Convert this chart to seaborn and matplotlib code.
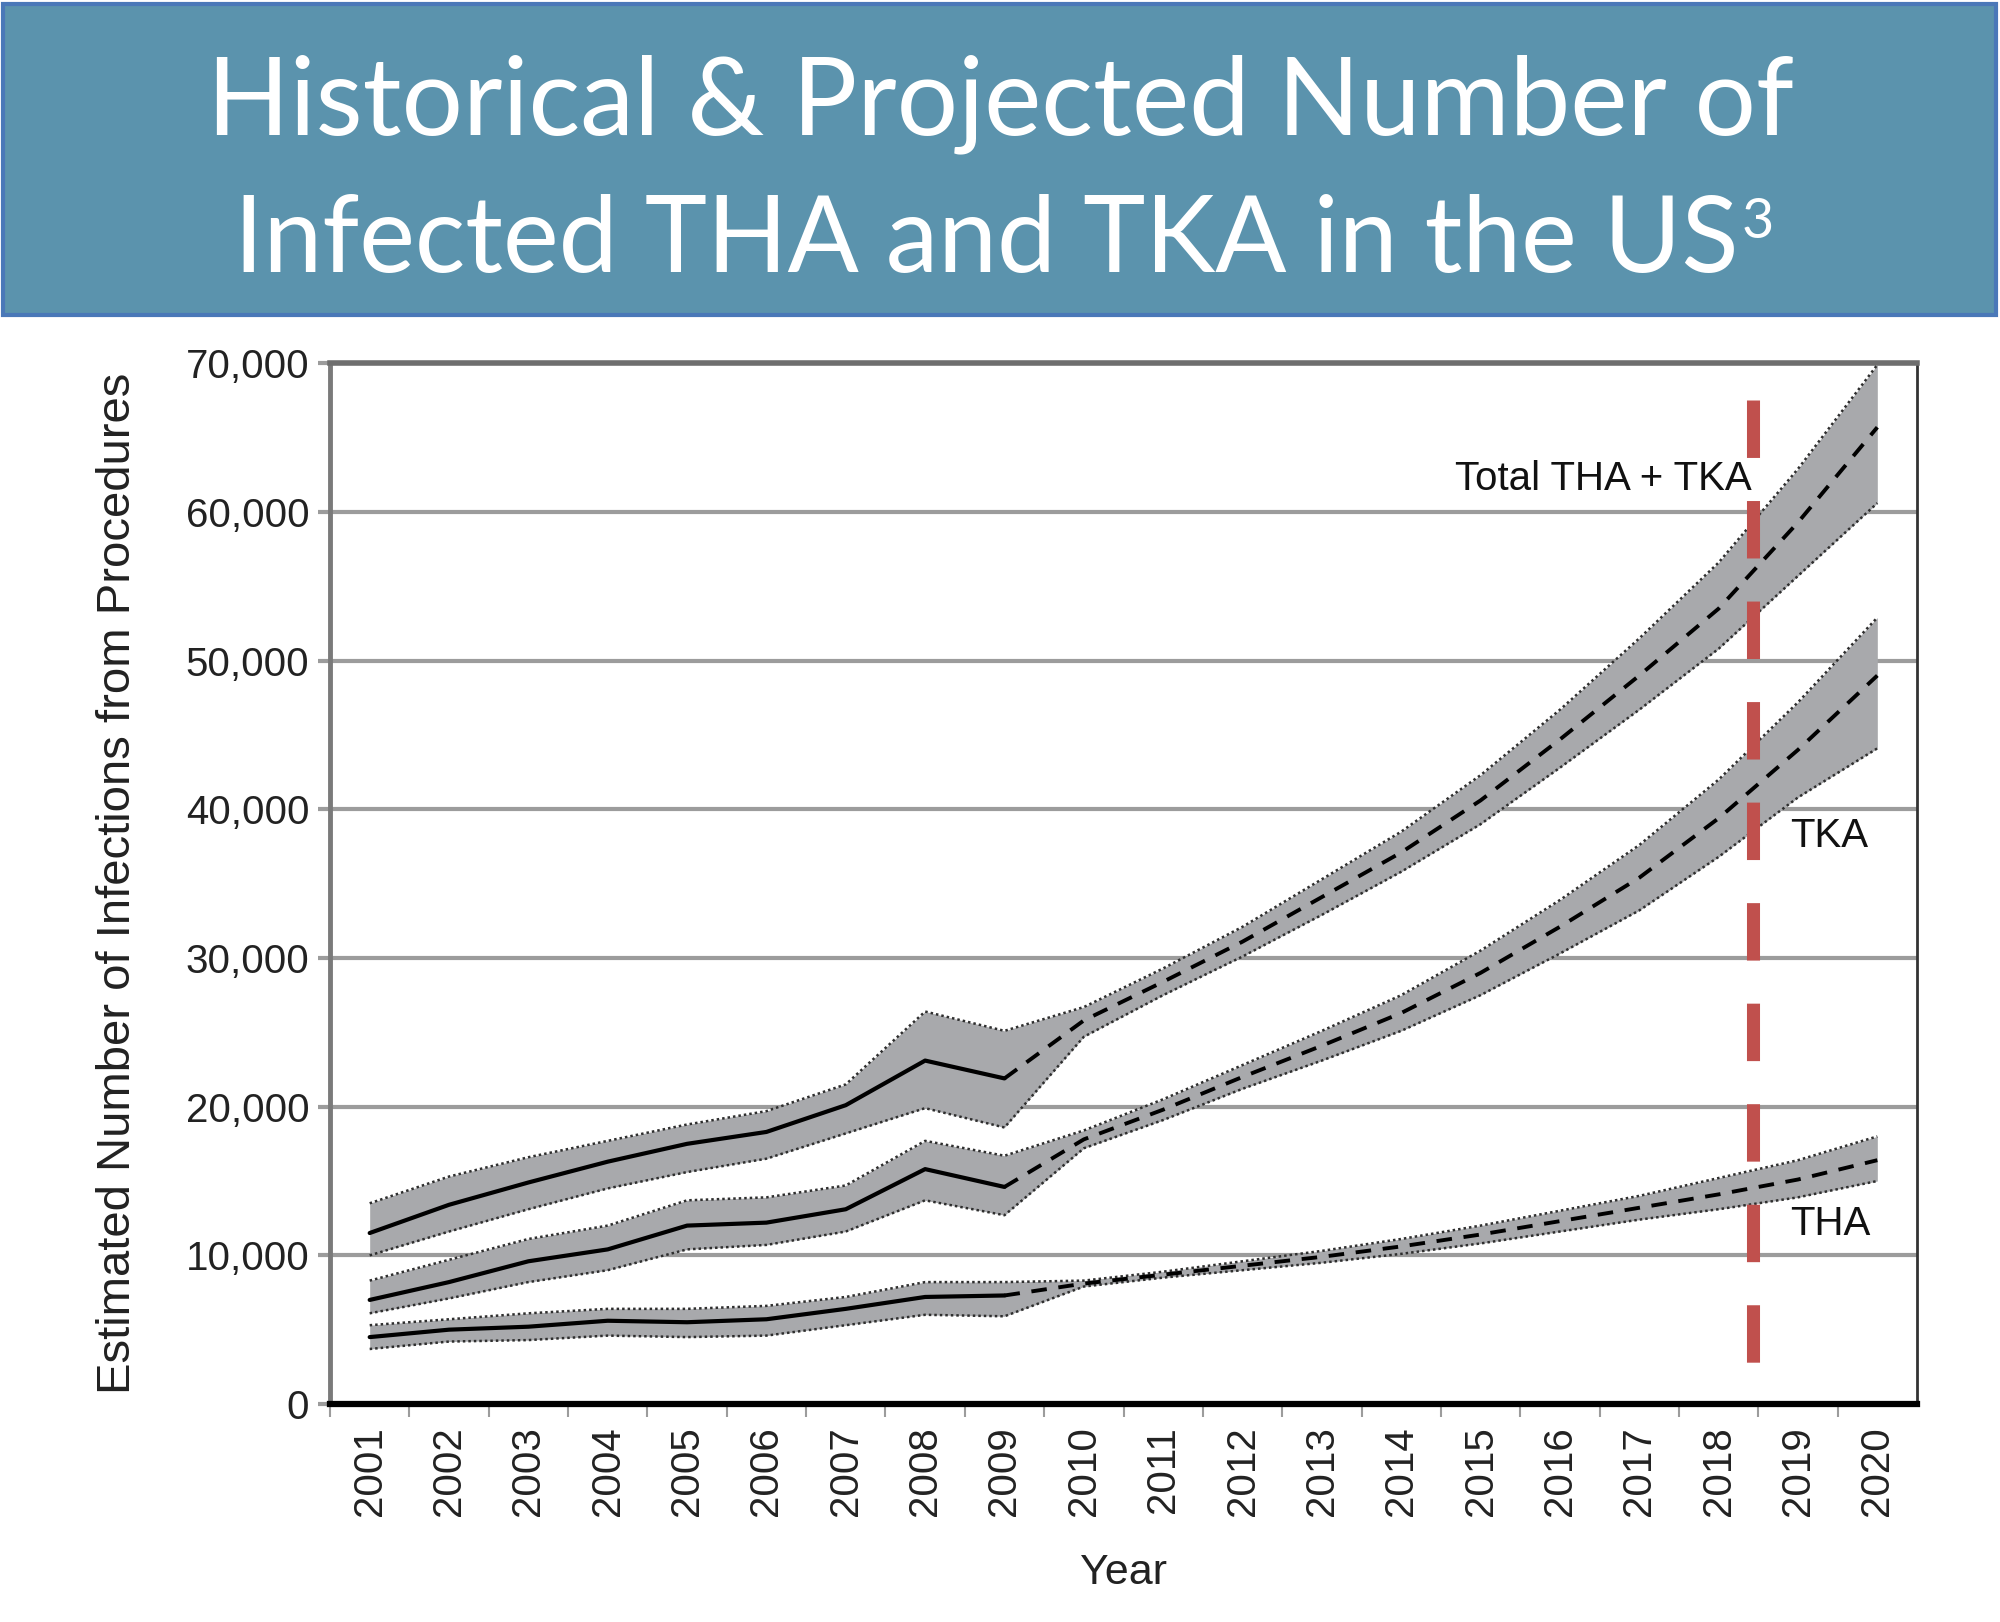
import numpy as np
import pandas as pd
import matplotlib
matplotlib.use("Agg")
import matplotlib.pyplot as plt
import seaborn as sns
from matplotlib.patches import Rectangle
from matplotlib.ticker import FuncFormatter, FixedLocator

# ---------------- data ----------------
years = list(range(2001, 2021))
last_actual_year = 2009
cutoff_year = 2018.43

total_mid = [11500, 13400, 14900, 16300, 17500, 18300, 20100, 23100, 21900, 25800,
             28400, 31100, 34100, 37100, 40600, 44700, 49000, 53500, 59300, 65700]
total_hi = [13500, 15300, 16600, 17700, 18800, 19700, 21500, 26400, 25100, 26700,
            29300, 32100, 35300, 38500, 42300, 46700, 51500, 56600, 62900, 69900]
total_lo = [10000, 11600, 13100, 14500, 15600, 16500, 18200, 19900, 18600, 24700,
            27500, 30100, 32900, 35800, 39000, 42800, 46700, 50800, 55700, 60600]

tka_mid = [7000, 8200, 9600, 10400, 12000, 12200, 13100, 15800, 14600, 17800,
           19800, 22000, 24100, 26300, 29000, 32100, 35400, 39400, 44000, 49000]
tka_hi = [8300, 9700, 11100, 12000, 13700, 13900, 14700, 17700, 16700, 18400,
          20500, 22800, 25100, 27500, 30500, 33900, 37600, 42000, 47200, 52900]
tka_lo = [6100, 7100, 8200, 9000, 10400, 10700, 11600, 13700, 12700, 17200,
          19100, 21200, 23100, 25100, 27500, 30300, 33200, 36800, 40800, 44100]

tha_mid = [4500, 5000, 5200, 5600, 5500, 5700, 6400, 7200, 7300, 8100,
           8700, 9300, 9900, 10600, 11400, 12300, 13200, 14100, 15100, 16400]
tha_hi = [5300, 5700, 6100, 6400, 6400, 6600, 7200, 8200, 8200, 8300,
          8900, 9600, 10300, 11100, 12000, 13000, 14000, 15200, 16400, 18000]
tha_lo = [3700, 4200, 4300, 4600, 4500, 4600, 5300, 6000, 5900, 7900,
          8500, 9000, 9500, 10100, 10800, 11600, 12400, 13100, 13900, 15000]

series_names = ["Total THA + TKA", "TKA", "THA"]
y_ticks = [0, 10000, 20000, 30000, 40000, 50000, 60000, 70000]
title_lines = ["Historical & Projected Number of", "Infected THA and TKA in the US"]
title_sup = "3"
y_label = "Estimated Number of Infections from Procedures"
x_label = "Year"
label_pos = {"Total THA + TKA": (2018.42, 62200, "right"),
             "TKA": (2018.9, 38200, "left"),
             "THA": (2018.9, 12100, "left")}
cutoff_span = (67500, 1800)

# ---------------- build frames ----------------
rows = []
for name, mid, lo, hi in [("Total THA + TKA", total_mid, total_lo, total_hi),
                          ("TKA", tka_mid, tka_lo, tka_hi),
                          ("THA", tha_mid, tha_lo, tha_hi)]:
    for y, m, l, h in zip(years, mid, lo, hi):
        rows.append({"year": y, "value": m, "lo": l, "hi": h, "series": name})
df = pd.DataFrame(rows)
df_act = df[df.year <= last_actual_year]
df_proj = df[df.year >= last_actual_year]

# ---------------- style ----------------
sns.set_theme(style="white")
plt.rcParams['font.family'] = ['Liberation Sans', 'DejaVu Sans']

fig = plt.figure(figsize=(20, 16.22), dpi=100)
fig.patch.set_facecolor("white")

# title banner
fig.patches.append(Rectangle((3 / 2000, 1 - 315 / 1622), 1993 / 2000, 311 / 1622,
                             transform=fig.transFigure, facecolor="#5b93ad",
                             edgecolor="#4a78b8", lw=3, zorder=0))
tfont = ["Lato", "DejaVu Sans"]
fig.text(0.5, 1 - 134 / 1622, title_lines[0], ha="center", va="baseline",
         color="white", fontsize=78, family=tfont)
t2 = fig.text(0.493, 1 - 272 / 1622, title_lines[1], ha="center", va="baseline",
              color="white", fontsize=76, family=tfont)
fig.canvas.draw()
bb = t2.get_window_extent()
fig.text((bb.x1 + 3) / 2000, 1 - 238 / 1622, title_sup, ha="left", va="baseline",
         color="white", fontsize=40, family=tfont)

ax = fig.add_axes([0.165, 0.1344, 0.7935, 0.6416])

# bands
band_color = "#a8a9ac"
for name in series_names:
    d = df[df.series == name]
    ax.fill_between(d.year, d.lo, d.hi, color=band_color, lw=0, zorder=2)
    ax.plot(d.year, d.lo, linestyle=(0, (1, 1.2)), color="#2e2e2e", lw=1.8, zorder=3)
    ax.plot(d.year, d.hi, linestyle=(0, (1, 1.2)), color="#2e2e2e", lw=1.8, zorder=3)

# center lines
sns.lineplot(data=df_act, x="year", y="value", units="series", estimator=None,
             color="black", lw=3, ax=ax, zorder=4)
sns.lineplot(data=df_proj, x="year", y="value", units="series", estimator=None,
             color="black", lw=2.8, linestyle=(0, (4, 3)), ax=ax, zorder=4)

# cutoff line
ax.plot([cutoff_year, cutoff_year], list(cutoff_span), color="#c0504d", lw=9.4,
        linestyle=(0, (4.4, 3.3)), zorder=5, solid_capstyle="butt",
        dash_capstyle="butt")

# labels on lines
for name, (x, y, ha) in label_pos.items():
    ax.text(x, y, name, ha=ha, va="center", fontsize=29, color="#111111", zorder=6)

# axes
ax.set_xlim(2000.5, 2020.5)
ax.set_ylim(0, 70000)
ax.set_yticks(y_ticks)
ax.yaxis.set_major_formatter(FuncFormatter(lambda v, p: f"{int(v):,}"))
ax.set_xticks(years)
ax.set_xticklabels([str(y) for y in years], rotation=90)
ax.xaxis.set_minor_locator(FixedLocator([y + 0.5 for y in years[:-1]] + [2000.5]))

ax.yaxis.grid(True, color="#9c9c9c", lw=3)
ax.xaxis.grid(False)
ax.set_axisbelow(True)

ax.spines["top"].set_color("#6e6e6e")
ax.spines["top"].set_linewidth(4)
ax.spines["left"].set_color("#7a7a7a")
ax.spines["left"].set_linewidth(3.5)
ax.spines["bottom"].set_color("black")
ax.spines["bottom"].set_linewidth(4.5)
ax.spines["right"].set_color("#333333")
ax.spines["right"].set_linewidth(2)

ax.tick_params(axis="y", which="major", direction="out", length=9, width=3,
               color="#9c9c9c", labelsize=29, labelcolor="#222222", pad=6, left=True)
ax.tick_params(axis="x", which="major", length=0, labelsize=29,
               labelcolor="#222222", pad=16)
ax.tick_params(axis="x", which="minor", direction="out", length=9, width=1.5,
               color="#9c9c9c", bottom=True)

ax.set_xlabel(x_label, fontsize=31, color="#222222")
ax.set_ylabel(y_label, fontsize=34, color="#222222")
ax.xaxis.set_label_coords(0.5, -0.143)
ax.yaxis.set_label_coords(-0.12, 0.5)

fig.savefig("out.png", dpi=100, facecolor="white")
